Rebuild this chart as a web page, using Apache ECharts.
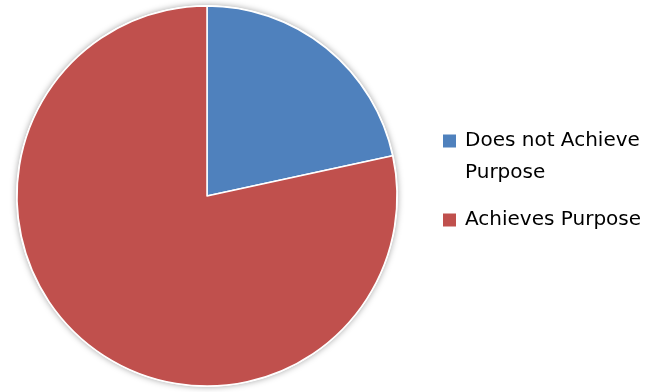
<!DOCTYPE html>
<html>
<head>
<meta charset="utf-8">
<script src="https://cdn.jsdelivr.net/npm/echarts@6/dist/echarts.min.js"></script>
<style>
html, body { margin: 0; padding: 0; background: #fff; }
#main { width: 657px; height: 392px; }
</style>
</head>
<body>
<div id="main"></div>
<script>
// slice names and shares
var categories = ["Does not Achieve Purpose", "Achieves Purpose"];
var shares = [21.6, 78.4];
var colors = ["#4F81BD", "#C0504D"];

var chart = echarts.init(document.getElementById("main"));

var pieData = categories.map(function (name, i) {
	return { name: name, value: shares[i], itemStyle: { color: colors[i] } };
});

var option = {
	backgroundColor: "#ffffff",
	animation: false,
	legend: {
		orient: "vertical",
		left: 443,
		top: 93,
		padding: 0,
		icon: "rect",
		itemWidth: 13,
		itemHeight: 13,
		itemGap: 15,
		itemStyle: { borderWidth: 0 },
		data: categories,
		// empty first line keeps the icon level with the first text line
		formatter: function (name) {
			return name == "Does not Achieve Purpose" ? "\nDoes not Achieve\nPurpose" : name;
		},
		textStyle: {
			fontFamily: "DejaVu Sans",
			fontSize: 20,
			color: "#000",
			lineHeight: 32,
			padding: [0, 0, 0, 4]
		}
	},
	series: [
		{
			// shadow disc under the pie
			type: "pie",
			silent: true,
			z: 1,
			center: [207, 196],
			radius: [0, 191],
			label: { show: false },
			labelLine: { show: false },
			itemStyle: {
				color: "#ffffff",
				shadowBlur: 6,
				shadowColor: "rgba(0,0,0,0.35)"
			},
			data: [{ name: "_bg", value: 1 }]
		},
		{
			type: "pie",
			z: 2,
			center: [207, 196],
			radius: [0, 190],
			startAngle: 90,
			clockwise: true,
			label: { show: false },
			labelLine: { show: false },
			itemStyle: { borderColor: "#ffffff", borderWidth: 1.5 },
			emphasis: { disabled: true },
			data: pieData
		}
	]
};

chart.setOption(option);
</script>
</body>
</html>
